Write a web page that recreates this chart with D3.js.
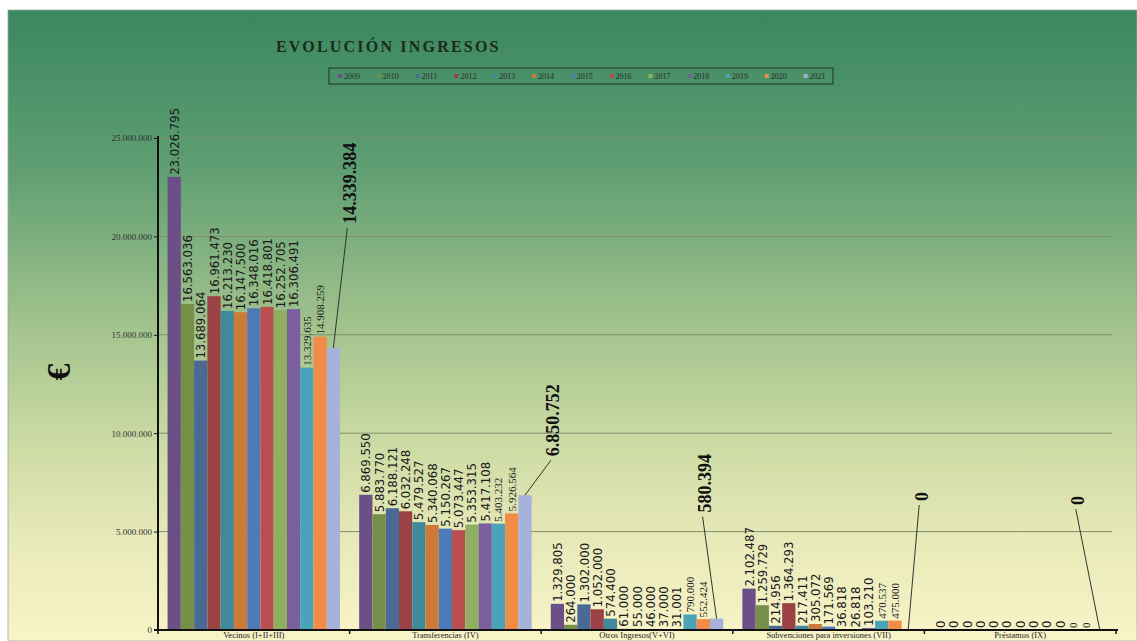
<!DOCTYPE html>
<html><head><meta charset="utf-8">
<script src="https://cdn.jsdelivr.net/npm/d3@7"></script>
<style>body{margin:0;background:#fff}svg{display:block}</style>
</head><body>
<svg id="c" width="1137" height="641"></svg>
<script>
const categories = ["Vecinos (I+II+III)", "Transferencias (IV)", "Otros Ingresos(V+VI)", "Subvenciones para inversiones (VII)", "Préstamos (IX)"];
const years = ["2009","2010","2011","2012","2013","2014","2015","2016","2017","2018","2019","2020","2021"];
const vecinos = [23026795,16563036,13689064,16961473,16213230,16147500,16348016,16418801,16252705,16306491,13329635,14908259,14339384];
const transferencias = [6869550,5883770,6188121,6032248,5479527,5340068,5150267,5073447,5353315,5417108,5403232,5926564,6850752];
const otros = [1329805,264000,1302000,1052000,574400,61000,55000,46000,37000,31001,790000,552424,580394];
const subvenciones = [2102487,1259729,214956,1364293,217411,305072,171569,36818,26818,103210,470537,475000,0];
const prestamos = [0,0,0,0,0,0,0,0,0,0,0,0,0];
const yTicks = [0,5000000,10000000,15000000,20000000,25000000];
const colors = ["#6b4f86","#76904a","#4a6a95","#9a4244","#3f8a9a","#cc7a3a","#4f7ab8","#b9504f","#8fb060","#7b5fa0","#4aa3b8","#f08c48","#a6b2d8"];
// callout label offsets for the 2021 bars (layout only)
const calloutOffsets = [[16,-124],[28,-39],[-12,-106],[13,-129],[-22,-125]];

const seriesByCat = [vecinos, transferencias, otros, subvenciones, prestamos];
const fmt = v => d3.format(",")(v).replace(/,/g, ".");

const svg = d3.select("#c");
const defs = svg.append("defs");
const g = defs.append("linearGradient").attr("id","bg").attr("x1",0).attr("y1",0).attr("x2",0).attr("y2",1);
[[0,"#3a8760"],[0.25,"#5f9e72"],[0.5,"#a2c38d"],[0.7,"#cfdca6"],[0.85,"#e9eaba"],[1,"#f8f4c8"]].forEach(s=>g.append("stop").attr("offset",s[0]).attr("stop-color",s[1]));
svg.append("rect").attr("x",8).attr("y",10).attr("width",1129).attr("height",631).attr("fill","url(#bg)").attr("stroke","#9aa89a").attr("stroke-width",0.8);

const pLeft = 158, pRight = 1116, pTop = 138, pBottom = 630;
const y = d3.scaleLinear().domain([0,25000000]).range([pBottom, pTop]);
const x0 = d3.scaleBand().domain(categories).range([pLeft,pRight]).paddingInner(0.1).paddingOuter(0.05);
const x1 = d3.scaleBand().domain(years).range([0, x0.bandwidth()]).padding(0);

// gridlines
svg.append("g").selectAll("line").data(yTicks.filter(d=>d>0)).join("line")
  .attr("x1",pLeft).attr("x2",pRight-4).attr("y1",d=>y(d)).attr("y2",d=>y(d))
  .attr("stroke","#7e8e6e").attr("stroke-width",1);

// bars
const groups = svg.append("g").selectAll("g").data(categories).join("g")
  .attr("transform", c => `translate(${x0(c)},0)`);
groups.each(function(c, ci){
  const vals = seriesByCat[ci];
  const gg = d3.select(this);
  gg.selectAll("rect").data(vals).join("rect")
    .attr("x",(v,i)=>x1(years[i])).attr("width",x1.bandwidth())
    .attr("y",v=>y(v)).attr("height",v=>pBottom-y(v))
    .attr("fill",(v,i)=>colors[i]);
  gg.selectAll("text.lab").data(vals.slice(0,12)).join("text").attr("class","lab")
    .attr("transform",(v,i)=>`translate(${x1(years[i])+x1.bandwidth()/2},${y(v)-2}) rotate(-90)`)
    .attr("dy","0.35em")
    .attr("font-family",(v,i)=> i>=10 ? "Liberation Serif" : "DejaVu Sans Condensed")
    .attr("font-size",(v,i)=> i>=10 ? 11 : 13)
    .attr("fill","#1a1a1a")
    .text(v=>fmt(v));
  const v = vals[12];
  const bx = x1("2021")+x1.bandwidth()/2, by = y(v);
  const [dx,dy] = calloutOffsets[ci];
  gg.append("line").attr("x1",bx+dx-2).attr("y1",by+dy+4).attr("x2",bx).attr("y2",by)
    .attr("stroke","#333").attr("stroke-width",1);
  gg.append("text").attr("transform",`translate(${bx+dx},${by+dy}) rotate(-90)`)
    .attr("dy","0.35em").attr("font-family","Liberation Serif").attr("font-weight","bold")
    .attr("font-size",18).attr("fill","#111").text(fmt(v));
});

// y axis
const yAxis = d3.axisLeft(y).tickValues(yTicks).tickSize(4).tickFormat(fmt);
const ya = svg.append("g").attr("transform",`translate(${pLeft},0)`).call(yAxis);
ya.select(".domain").attr("d",`M0,${pTop-2}V${pBottom}`).attr("stroke","#111").attr("stroke-width",2);
ya.selectAll(".tick line").attr("stroke","#111");
ya.selectAll(".tick text").attr("font-family","Liberation Serif").attr("font-size",9).attr("fill","#333").attr("x",-6);

// x axis
svg.append("line").attr("x1",pLeft-4).attr("x2",pRight+2).attr("y1",pBottom).attr("y2",pBottom).attr("stroke","#111").attr("stroke-width",2);
const step = x0.step();
svg.append("g").selectAll("line").data(d3.range(categories.length+1)).join("line")
  .attr("x1",i=>pLeft+i*step).attr("x2",i=>pLeft+i*step).attr("y1",pBottom).attr("y2",pBottom+4)
  .attr("stroke","#111").attr("stroke-width",1.5);
svg.append("g").selectAll("text").data(categories).join("text")
  .attr("x",c=>x0(c)+x0.bandwidth()/2).attr("y",pBottom+8)
  .attr("text-anchor","middle").attr("font-family","Liberation Serif").attr("font-size",8.5).attr("fill","#222")
  .text(c=>c);

// y title
svg.append("text").attr("transform","translate(58,372) rotate(-90)").attr("text-anchor","middle").attr("dy","0.35em")
  .attr("font-family","Liberation Serif").attr("font-weight","bold").attr("font-size",34).attr("fill","#111").text("€");

// title
svg.append("text").attr("x",276).attr("y",52).attr("font-family","Liberation Serif").attr("font-weight","bold")
  .attr("font-size",16).attr("letter-spacing",2.2).attr("fill","#1b2a1b").text("EVOLUCIÓN INGRESOS");

// legend
const lg = svg.append("g");
lg.append("rect").attr("x",329).attr("y",68).attr("width",504).attr("height",16).attr("fill","none").attr("stroke","#223322").attr("stroke-width",1);
const items = lg.selectAll("g").data(years).join("g").attr("transform",(d,i)=>`translate(${338+i*38.8},76)`);
items.append("rect").attr("x",0).attr("y",-2).attr("width",4).attr("height",4).attr("fill",(d,i)=>colors[i]);
items.append("text").attr("x",6).attr("dy","0.35em").attr("font-family","Liberation Serif").attr("font-size",8).attr("fill","#2a2a2a").text(d=>d);
</script>
</body></html>
